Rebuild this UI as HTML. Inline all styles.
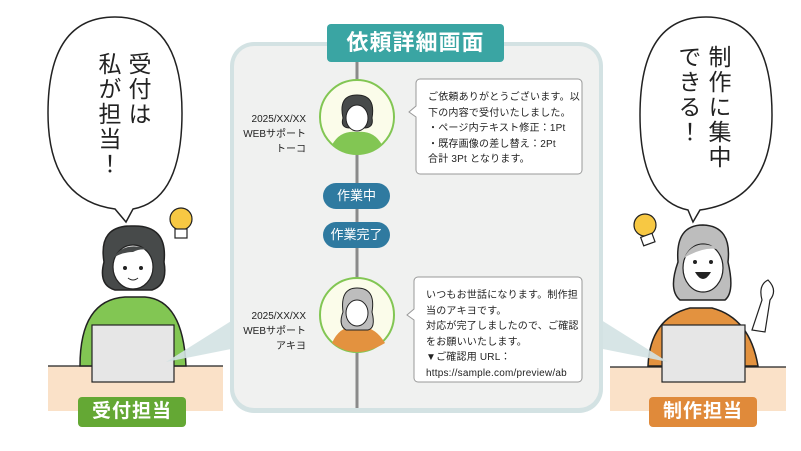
<!DOCTYPE html>
<html><head><meta charset="utf-8"><style>
body{margin:0;width:801px;height:451px;background:#fff;position:relative;overflow:hidden;font-family:"Liberation Sans","Noto Sans CJK JP",sans-serif}
.a{position:absolute}
.v{writing-mode:vertical-rl;font-size:23px;color:#222;line-height:30px;letter-spacing:2px}
.msg{font-size:10px;line-height:15.5px;color:#222;padding:10px 0 0 12px;box-sizing:border-box;white-space:nowrap;letter-spacing:0.2px}
.date{font-size:10px;line-height:15px;text-align:right;color:#222;width:80px}
.pill{background:#2f7aa0;color:#fff;border-radius:14px;font-size:13px;text-align:center;line-height:26px}
.lbl{color:#fff;font-size:19px;text-align:center;line-height:30px;border-radius:4px;font-weight:bold;letter-spacing:1px}
</style></head><body>
<svg class="a" style="left:0;top:0" width="801" height="451">
<rect x="48" y="366" width="175" height="45" fill="#fae1c8"/>
<line x1="48" y1="366" x2="223" y2="366" stroke="#222" stroke-width="1.2"/>
<rect x="610" y="367" width="176" height="44" fill="#fae1c8"/>
<line x1="610" y1="367" x2="786" y2="367" stroke="#222" stroke-width="1.2"/>
<path d="M80,366 Q80,300 125,297 L145,297 Q183,300 186,366 Z" fill="#82c653" stroke="#222" stroke-width="1.5"/>
<path d="M104,262 Q98,225 133,226 Q168,225 164,262 Q168,285 152,290 L115,290 Q98,285 104,262Z" fill="#474a4a" stroke="#222" stroke-width="1.5"/>
<ellipse cx="133" cy="267" rx="20" ry="22" fill="#fff" stroke="#222" stroke-width="1.2"/>
<path d="M113,258 Q125,240 150,250 Q140,248 133,252 Q122,252 113,258Z" fill="#474a4a"/>
<circle cx="125" cy="268" r="2" fill="#222"/><circle cx="141" cy="268" r="2" fill="#222"/>
<path d="M128,278 Q133,282 138,278" stroke="#222" fill="none"/>
<path d="M648,366 Q650,318 690,308 L712,308 Q750,318 758,366 Z" fill="#e3923f" stroke="#222" stroke-width="1.5"/>
<path d="M678,262 Q675,225 703,225 Q732,226 728,262 Q735,292 725,300 L680,300 Q668,290 678,262Z" fill="#bdbdbd" stroke="#222" stroke-width="1.5"/>
<ellipse cx="703" cy="268" rx="20" ry="24" fill="#fff" stroke="#222" stroke-width="1.2"/>
<path d="M684,258 Q695,236 722,250 Q705,245 684,258Z" fill="#bdbdbd"/>
<circle cx="695" cy="262" r="2" fill="#222"/><circle cx="711" cy="262" r="2" fill="#222"/>
<path d="M695,272 Q703,286 711,272Z" fill="#222"/>
<path d="M752,330 L762,300 Q758,285 768,280 Q778,290 770,300 L765,332Z" fill="#fff" stroke="#222" stroke-width="1.2"/>
<g stroke="#222" stroke-width="1.2"><circle cx="181" cy="219" r="11" fill="#f7c843"/><rect x="175" y="229" width="12" height="9" fill="#fff"/></g>
<g stroke="#222" stroke-width="1.2"><circle cx="645" cy="225" r="11" fill="#f7c843"/><rect x="642" y="235" width="12" height="9" fill="#fff" transform="rotate(-20 648 240)"/></g>
<rect x="92" y="325" width="82" height="57" fill="#e6e6e6" stroke="#222" stroke-width="1.2"/>
<rect x="662" y="325" width="83" height="57" fill="#e6e6e6" stroke="#222" stroke-width="1.2"/>
<path d="M236,318 L166,362 L236,348Z" fill="#d3e2e3" opacity=".9"/>
<path d="M598,318 L668,362 L598,348Z" fill="#d3e2e3" opacity=".9"/>
<rect x="230" y="42" width="373" height="371" rx="24" fill="#d3e2e3"/>
<rect x="234" y="46" width="365" height="362" rx="20" fill="#f0f1f0"/>
<line x1="357" y1="60" x2="357" y2="408" stroke="#8a8a8a" stroke-width="3"/>
<rect x="327" y="24" width="177" height="38" rx="4" fill="#3aa5a3"/>
<circle cx="357" cy="117" r="37" fill="#fbfcea" stroke="#82c653" stroke-width="2"/>
<path d="M332,145 Q340,130 357,132 Q374,130 382,145 Q370,154 357,154 Q344,154 332,145Z" fill="#82c653"/>
<path d="M343,118 Q338,95 357,95 Q376,95 372,118 Q374,128 364,128 L350,128 Q340,128 343,118Z" fill="#474a4a" stroke="#222"/>
<ellipse cx="357" cy="118" rx="11" ry="13" fill="#fff" stroke="#222"/>
<circle cx="357" cy="315" r="37" fill="#fbfcea" stroke="#82c653" stroke-width="2"/>
<path d="M332,343 Q340,325 357,327 Q374,325 385,343 Q370,352 357,352 Q344,352 332,343Z" fill="#e3923f"/>
<path d="M343,312 Q340,288 357,288 Q376,288 372,312 Q376,328 368,330 L346,330 Q338,325 343,312Z" fill="#bdbdbd" stroke="#222"/>
<ellipse cx="357" cy="313" rx="11" ry="13" fill="#fff" stroke="#222"/>
<path d="M420,79 H578 a4,4 0 0 1 4,4 V170 a4,4 0 0 1 -4,4 H420 a4,4 0 0 1 -4,-4 V117 L409,112 L416,106 V83 a4,4 0 0 1 4,-4Z" fill="#fff" stroke="#999"/>
<path d="M418,277 H578 a4,4 0 0 1 4,4 V378 a4,4 0 0 1 -4,4 H418 a4,4 0 0 1 -4,-4 V320 L407,315 L414,309 V281 a4,4 0 0 1 4,-4Z" fill="#fff" stroke="#999"/>
<path d="M115,209 Q48,200 48,113 Q48,17 115,17 Q182,17 182,113 Q182,200 133,209 L126,222Z" fill="#fff" stroke="#222" stroke-width="1.5"/>
<path d="M688,210 Q640,200 640,115 Q640,17 706,17 Q772,17 772,115 Q772,200 700,210 L693,222Z" fill="#fff" stroke="#222" stroke-width="1.5"/>
</svg>
<div class="a v" style="left:93px;top:52px">受付は<br>私が担当！</div>
<div class="a v" style="left:673px;top:45px">制作に集中<br>できる！</div>
<div class="a" style="left:327px;top:24px;width:177px;line-height:38px;text-align:center;color:#fff;font-size:22px;font-weight:bold;letter-spacing:1px">依頼詳細画面</div>
<div class="a date" style="left:226px;top:112px">2025/XX/XX<br>WEBサポート<br>トーコ</div>
<div class="a date" style="left:226px;top:309px">2025/XX/XX<br>WEBサポート<br>アキヨ</div>
<div class="a pill" style="left:323px;top:183px;width:67px">作業中</div>
<div class="a pill" style="left:323px;top:222px;width:67px">作業完了</div>
<div class="a msg" style="left:416px;top:80px;width:166px">ご依頼ありがとうございます。以<br>下の内容で受付いたしました。<br>・ページ内テキスト修正：1Pt<br>・既存画像の差し替え：2Pt<br>合計 3Pt となります。</div>
<div class="a msg" style="left:414px;top:278px;width:168px">いつもお世話になります。制作担<br>当のアキヨです。<br>対応が完了しましたので、ご確認<br>をお願いいたします。<br>▼ご確認用 URL：<br>https://sample.com/preview/ab</div>
<div class="a lbl" style="left:78px;top:397px;width:108px;background:#64a834">受付担当</div>
<div class="a lbl" style="left:649px;top:397px;width:108px;background:#e08a3a">制作担当</div>
</body></html>
